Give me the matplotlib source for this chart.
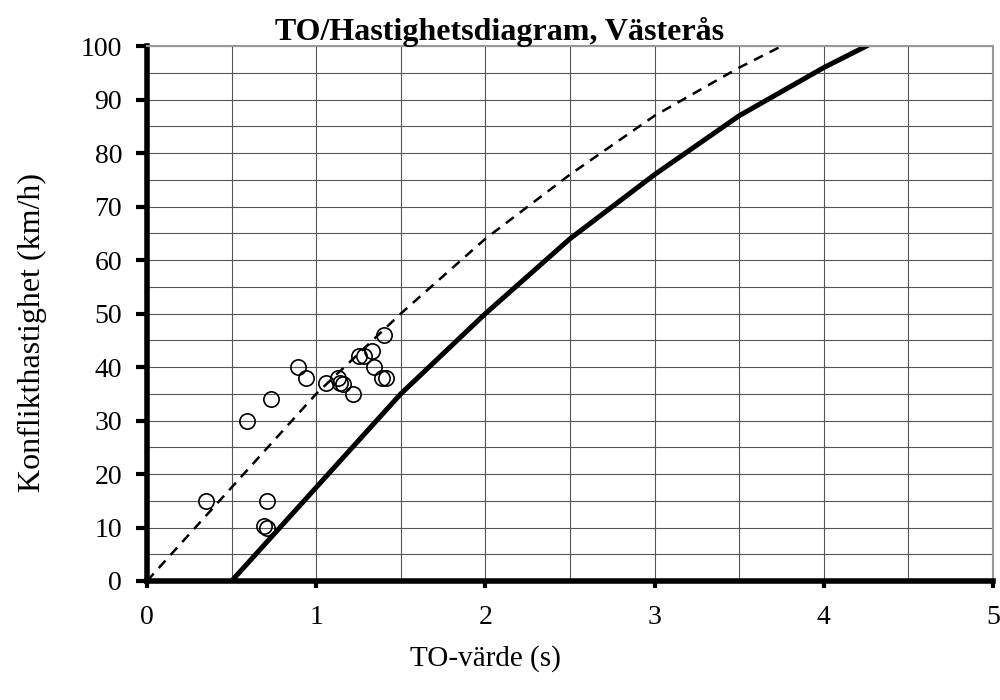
import matplotlib.pyplot as plt
import numpy as np

plt.rcParams['font.family'] = ['Liberation Serif', 'DejaVu Serif']

# Gränskurvor (TO-värde mot konflikthastighet)
curve_to = [0.5, 1.0, 1.5, 2.0, 2.5, 3.0, 3.5, 4.0, 4.5]
curve_speed = [0, 17.5, 35, 50, 64, 76, 87, 96, 104]
dash_to = [0.0, 0.5, 1.0, 1.5, 2.0, 2.5, 3.0, 3.5, 4.0]
dash_speed = [0, 17.5, 35, 50, 64, 76, 87, 96, 104]

# Observerade konflikter
obs_to = [0.35, 0.71, 0.69, 0.71, 0.59, 0.73, 0.89, 0.94, 1.06, 1.13,
          1.14, 1.16, 1.22, 1.25, 1.28, 1.33, 1.34, 1.40, 1.39, 1.41]
obs_speed = [15, 15, 10.2, 10, 30, 34, 40, 38, 37, 38,
             37, 36.8, 35, 42, 42, 43, 40, 46, 38, 38]

fig = plt.figure(figsize=(10, 7), dpi=100)
ax = fig.add_axes([0.147, 0.17, 0.846, 0.764])

ax.plot(curve_to, curve_speed, color='black', lw=3.6, solid_capstyle='butt')
ax.plot(dash_to, dash_speed, color='black', lw=1.8, dashes=(4, 3))
ax.plot(obs_to, obs_speed, 'o', mfc='none', mec='black', ms=11, mew=1.2)

ax.set_xlim(0, 5)
ax.set_ylim(0, 100)
ax.set_xticks(np.arange(0, 6, 1))
ax.set_yticks(np.arange(0, 101, 10))
ax.set_xticks(np.arange(0, 5.01, 0.5), minor=True)
ax.set_yticks(np.arange(0, 100.1, 5), minor=True)
ax.grid(True, which='both', color='#555555', lw=0.8)
ax.tick_params(which='minor', length=0)
ax.tick_params(which='major', direction='out', width=3, labelsize=20)
ax.tick_params(axis='y', length=8, pad=10)
ax.tick_params(axis='x', length=5, pad=12)

for side in ['left', 'bottom']:
    ax.spines[side].set_linewidth(4)
for side in ['top', 'right']:
    ax.spines[side].set_color('#999999')
    ax.spines[side].set_linewidth(1.5)

# titeln är centrerad över hela figuren
fig.text(0.5, 0.954, 'TO/Hastighetsdiagram, Västerås', fontsize=23,
         fontweight='bold', ha='center', va='center')
ax.set_xlabel('TO-värde (s)', fontsize=21)
ax.set_ylabel('Konflikthastighet (km/h)', fontsize=23)
ax.xaxis.set_label_coords(0.4, -0.12)
ax.yaxis.set_label_coords(-0.118, 0.465)

fig.savefig('out.png')
